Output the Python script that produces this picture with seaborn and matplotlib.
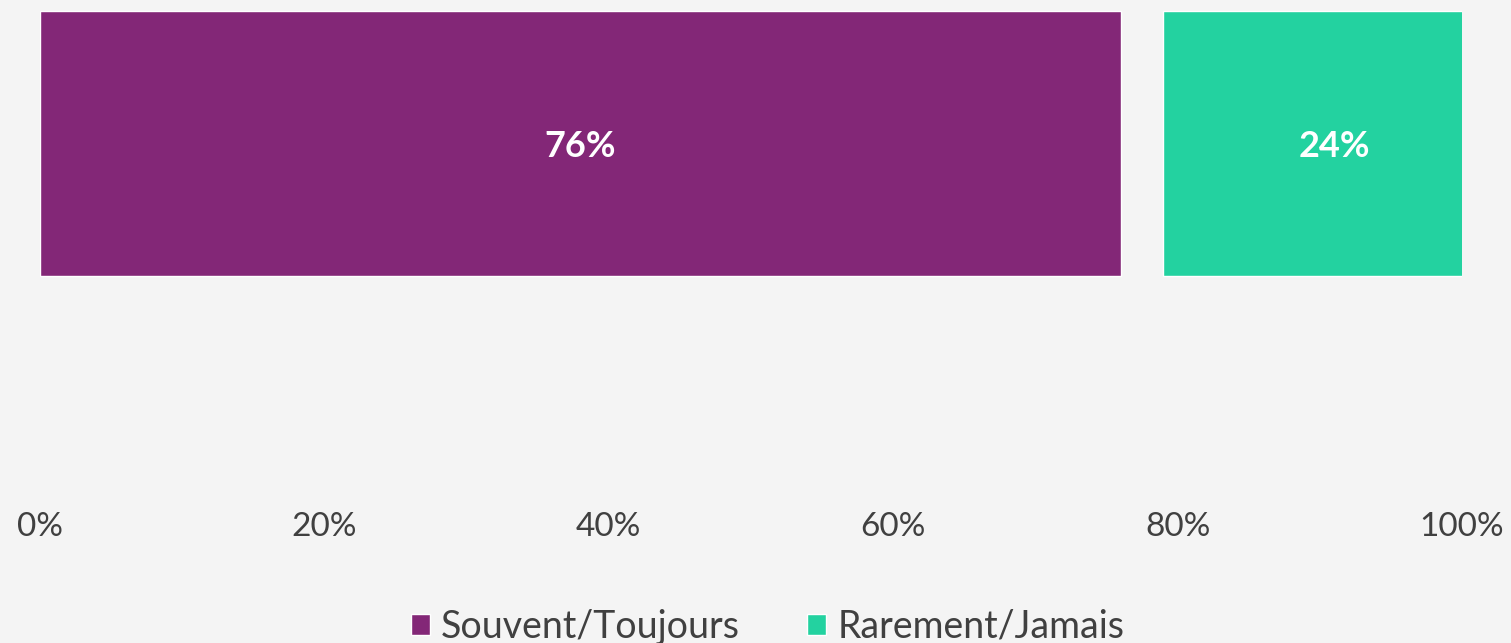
import matplotlib
matplotlib.use("Agg")
import matplotlib.pyplot as plt
import seaborn as sns
from matplotlib.ticker import FuncFormatter

# données
categorie = ["Q"]
souvent = [76]
rarement = [24]
series = ["Souvent/Toujours", "Rarement/Jamais"]
ticks = [0, 20, 40, 60, 80, 100]

fond = "#f4f4f4"
violet = "#832777"
vert = "#23d2a0"
ecart = 3  # espace entre les deux segments

sns.set_theme(style="white")
plt.rcParams["font.family"] = ["Lato", "DejaVu Sans"]

fig = plt.figure(figsize=(15.11, 6.43), dpi=100, facecolor=fond)
ax = fig.add_axes([40 / 1511, 1 - 495 / 643, 1422 / 1511, 495 / 643])
ax.set_facecolor(fond)

sns.barplot(x=souvent, y=categorie, orient="h", color=violet, width=1,
            saturation=1, label=series[0], legend=False, ax=ax)
gauche = [s + ecart for s in souvent]
ax.barh(categorie, rarement, left=gauche, height=1,
        color=vert, label=series[1])

# étiquettes au centre de chaque segment
for i in range(len(categorie)):
    ax.text(souvent[i] / 2, i + 0.01, f"{souvent[i]}%", ha="center", va="center",
            color="white", fontsize=26, fontweight="bold")
    ax.text(gauche[i] + rarement[i] / 2, i + 0.01, f"{rarement[i]}%", ha="center",
            va="center", color="white", fontsize=26, fontweight="bold")

ax.set_xlim(0, 100)
ax.set_ylim(1.3264, -0.5415)
ax.set_xticks(ticks)
ax.xaxis.set_major_formatter(FuncFormatter(lambda v, p: f"{v:.0f}%"))
ax.tick_params(axis="x", length=0, pad=12, labelsize=24, labelcolor="#404040")
ax.set_yticks([])
ax.set_xlabel("")
ax.set_ylabel("")
if ax.get_legend() is not None:
    ax.get_legend().remove()
sns.despine(ax=ax, left=True, bottom=True)

h, l = ax.get_legend_handles_labels()
fig.legend(h, l, loc="lower center", bbox_to_anchor=(0.508, -0.055), ncol=2,
           frameon=False, fontsize=27, handlelength=0.5, handleheight=0.5,
           handletextpad=0.3, columnspacing=1.8, labelcolor="#404040")

fig.savefig("out.png", dpi=100, facecolor=fond)
